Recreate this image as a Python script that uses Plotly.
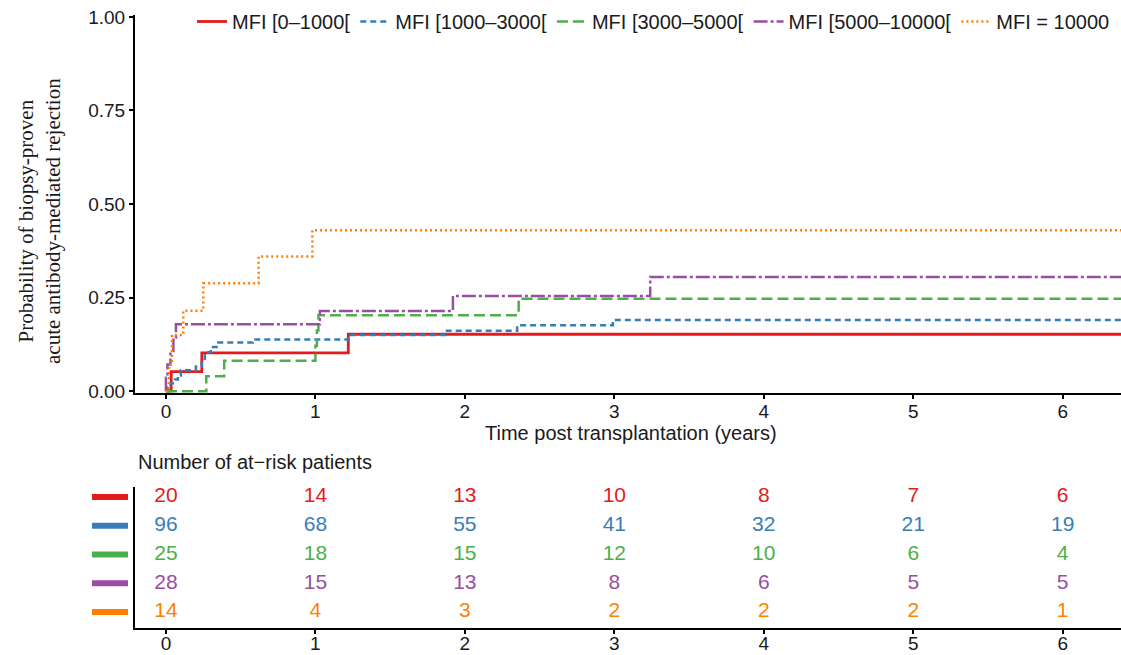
import plotly.graph_objects as go

W, H = 1121, 655

def px(p):
    return p / W

def py(p):
    return 1 - p / H

groups = ["MFI [0\u20131000[", "MFI [1000\u20133000[", "MFI [3000\u20135000[", "MFI [5000\u201310000[", "MFI = 10000"]
colors = ["#E41A1C", "#377EB8", "#4DAF4A", "#984EA3", "#FF7F00"]
dashes = ["solid", "6px,4px", "11px,5px", "14px,3px,3px,3px", "2px,3px"]
widths = [2.8, 2.5, 2.5, 2.5, 2.5]

end_time = 6.4

red_t = [0, 0.035, 0.24, 1.22, end_time]
red_p = [0, 0.052, 0.102, 0.152, 0.152]

blue_t = [0, 0.015, 0.03, 0.06, 0.08, 0.10, 0.20, 0.24, 0.26, 0.30, 0.35, 0.58, 1.22, 1.87, 2.35, 2.99, end_time]
blue_p = [0, 0.010, 0.021, 0.031, 0.042, 0.056, 0.066, 0.083, 0.104, 0.118, 0.130, 0.138, 0.150, 0.161, 0.176, 0.190, 0.190]

green_t = [0, 0.27, 0.39, 1.0, 1.01, 1.02, 2.36, end_time]
green_p = [0, 0.040, 0.081, 0.121, 0.162, 0.203, 0.247, 0.247]

purple_t = [0, 0.0, 0.01, 0.03, 0.05, 0.067, 1.03, 1.92, 3.24, end_time]
purple_p = [0, 0.036, 0.071, 0.107, 0.143, 0.179, 0.214, 0.254, 0.305, 0.305]

orange_t = [0, 0.02, 0.04, 0.116, 0.25, 0.62, 0.98, end_time]
orange_p = [0, 0.071, 0.150, 0.215, 0.288, 0.360, 0.430, 0.430]

curves_t = [red_t, blue_t, green_t, purple_t, orange_t]
curves_p = [red_p, blue_p, green_p, purple_p, orange_p]

risk_times = [0, 1, 2, 3, 4, 5, 6]
risk_red = [20, 14, 13, 10, 8, 7, 6]
risk_blue = [96, 68, 55, 41, 32, 21, 19]
risk_green = [25, 18, 15, 12, 10, 6, 4]
risk_purple = [28, 15, 13, 8, 6, 5, 5]
risk_orange = [14, 4, 3, 2, 2, 2, 1]
risk_rows = [risk_red, risk_blue, risk_green, risk_purple, risk_orange]
row_pos = [5, 4, 3, 2, 1]

y_ticks = [0, 0.25, 0.5, 0.75, 1.0]
y_ticklabels = ["0.00", "0.25", "0.50", "0.75", "1.00"]

fig = go.Figure()

for name, t, p, c, d, w in zip(groups, curves_t, curves_p, colors, dashes, widths):
    fig.add_trace(go.Scatter(
        x=t, y=p, mode="lines", name=name,
        line=dict(color=c, width=w, dash=d, shape="hv"),
        xaxis="x", yaxis="y",
    ))

for row, yv, c in zip(risk_rows, row_pos, colors):
    fig.add_trace(go.Scatter(
        x=risk_times, y=[yv] * len(risk_times), mode="text",
        text=[str(v) for v in row], textposition="middle center",
        textfont=dict(color=c, size=21, family="Liberation Sans"),
        showlegend=False, xaxis="x2", yaxis="y2", cliponaxis=False,
        hoverinfo="skip",
    ))

shapes = []
for yv, c in zip(row_pos, colors):
    shapes.append(dict(type="line", xref="paper", yref="y2",
                       x0=px(92), x1=px(128), y0=yv, y1=yv,
                       line=dict(color=c, width=6)))

xrange = [-0.207, 6.39]
axis_font = dict(family="Liberation Sans", size=19, color="#1a1a1a")

common_axis = dict(showline=True, linecolor="black", linewidth=2,
                   ticks="outside", ticklen=4, tickwidth=2, tickcolor="black",
                   showgrid=False, zeroline=False, tickfont=axis_font,
                   automargin=False)

fig.update_layout(
    width=W, height=H,
    autosize=False,
    margin=dict(l=0, r=0, t=0, b=0, pad=0, autoexpand=False),
    paper_bgcolor="white", plot_bgcolor="white",
    font=dict(family="Liberation Sans", size=19, color="#1a1a1a"),
    shapes=shapes,
    xaxis=dict(domain=[px(135), 1], range=xrange, anchor="y",
               tickvals=risk_times, ticktext=[str(v) for v in risk_times],
               ticklabelstandoff=-4, **common_axis),
    yaxis=dict(domain=[py(393), py(15)], range=[-0.005, 1.005], anchor="x",
               tickvals=y_ticks, ticktext=y_ticklabels, **common_axis),
    xaxis2=dict(domain=[px(135), 1], range=xrange, anchor="y2",
                tickvals=risk_times, ticktext=[str(v) for v in risk_times],
                ticklabelstandoff=-7, **common_axis),
    yaxis2=dict(domain=[py(628), py(487)], range=[0.443, 5.35], anchor="x2",
                showticklabels=False, ticks="",
                showline=True, linecolor="black", linewidth=2,
                showgrid=False, zeroline=False, automargin=False),
    legend=dict(orientation="h", x=px(192), y=py(2), xanchor="left", yanchor="top",
                font=dict(family="Liberation Sans", size=20, color="#1a1a1a"),
                bgcolor="rgba(0,0,0,0)", itemwidth=30, tracegroupgap=0),
    annotations=[
        dict(text="Probability of biopsy-proven<br>acute antibody-mediated rejection",
             xref="paper", yref="paper", x=px(40), y=py(221),
             xanchor="center", yanchor="middle", textangle=-90, showarrow=False,
             font=dict(family="Liberation Serif", size=21, color="#1a1a1a")),
        dict(text="Time post transplantation (years)", xref="paper", yref="paper",
             x=px(631), y=py(433), xanchor="center", yanchor="middle", showarrow=False,
             font=dict(family="Liberation Sans", size=20, color="#1a1a1a")),
        dict(text="Number of at\u2212risk patients", xref="paper", yref="paper",
             x=px(136), y=py(462), xanchor="left", yanchor="middle", showarrow=False,
             font=dict(family="Liberation Sans", size=20, color="#1a1a1a")),
    ],
)

fig.write_html("out.html",
               config={"displayModeBar": False},
               post_script="document.body.style.margin='0px';document.body.style.overflow='hidden';")
